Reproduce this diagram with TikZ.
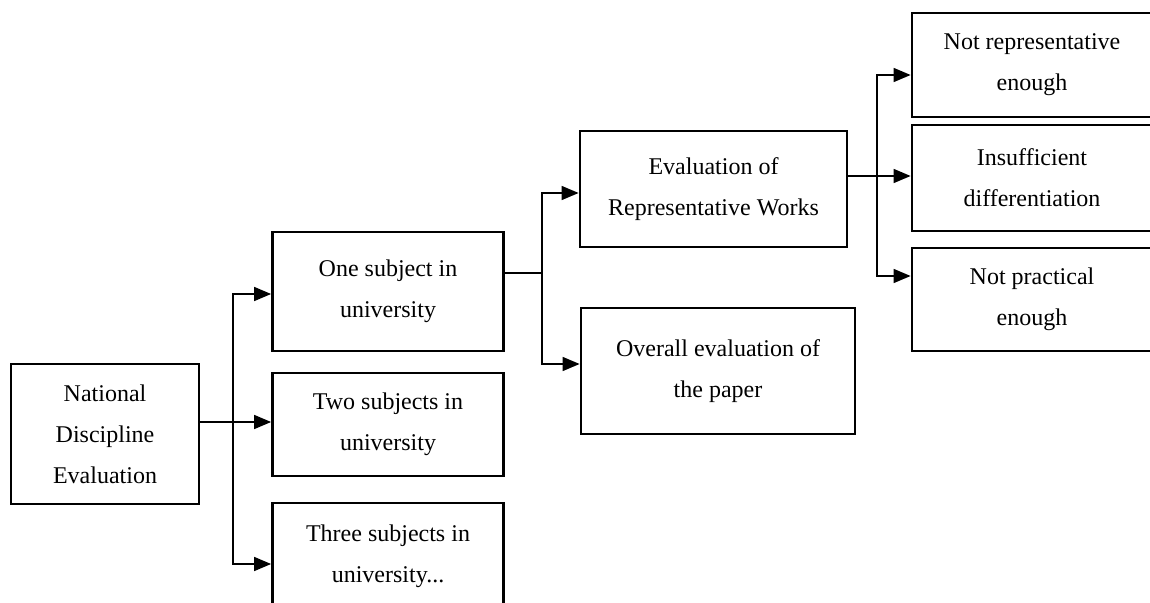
\documentclass[tikz,border=0pt]{standalone}
\usepackage{fontspec}
\setmainfont{Liberation Serif}
\usetikzlibrary{arrows.meta}
\begin{document}
\begin{tikzpicture}[x=0.5pt,y=-0.5pt,line join=miter,
		box/.style={draw,line width=1.4pt,inner sep=0pt,align=center,font={\fontsize{12}{20.5}\selectfont}},
		link/.style={line width=0.75pt},
		>={Triangle[length=8.5pt,width=7pt]}]
	\useasboundingbox (0,0) rectangle (1150,603);
	% left column
	\node[box,minimum width=94pt,minimum height=70pt] (nde) at (105,434) {National\\Discipline\\Evaluation};
	% subjects
	\node[box,minimum width=115.5pt,minimum height=59.5pt] (one) at (388,291.5) {One subject in\\university};
	\node[box,minimum width=115.5pt,minimum height=51.5pt] (two) at (388,424.5) {Two subjects in\\university};
	\node[box,minimum width=115.5pt,minimum height=53pt] (three) at (388,556) {Three subjects in\\university...};
	% evaluation
	\node[box,minimum width=133.5pt,minimum height=58pt] (erw) at (713.5,189) {Evaluation of\\Representative Works};
	\node[box,minimum width=137pt,minimum height=63pt] (ovr) at (718,371) {Overall evaluation of\\the paper};
	% problems
	\node[box,minimum width=120pt,minimum height=52pt] (nre) at (1032,65) {Not representative\\enough};
	\node[box,minimum width=120pt,minimum height=53pt] (ins) at (1032,178) {Insufficient\\differentiation};
	\node[box,minimum width=120pt,minimum height=51.5pt] (npe) at (1032,299.5) {Not practical\\enough};
	\path
	(233,422) coordinate (j1)
	(542,273) coordinate (j2)
	(877,176) coordinate (j3);
	\draw[link,->] (nde.east |- j1) -- (two.west |- j1);
	\draw[link,->] (j1) |- ([yshift=-1.25pt]one.west);
	\draw[link,->] (j1) |- ([yshift=-4pt]three.west);
	\draw[link] (one.east |- j2) -- (j2);
	\draw[link,->] (j2) |- ([yshift=-2pt]erw.west);
	\draw[link,->] (j2) |- ([yshift=3.5pt]ovr.west);
	\draw[link,->] (erw.east |- j3) -- (ins.west |- j3);
	\draw[link,->] (j3) |- ([yshift=-5pt]nre.west);
	\draw[link,->] (j3) |- ([yshift=11.75pt]npe.west);
\end{tikzpicture}
\end{document}
